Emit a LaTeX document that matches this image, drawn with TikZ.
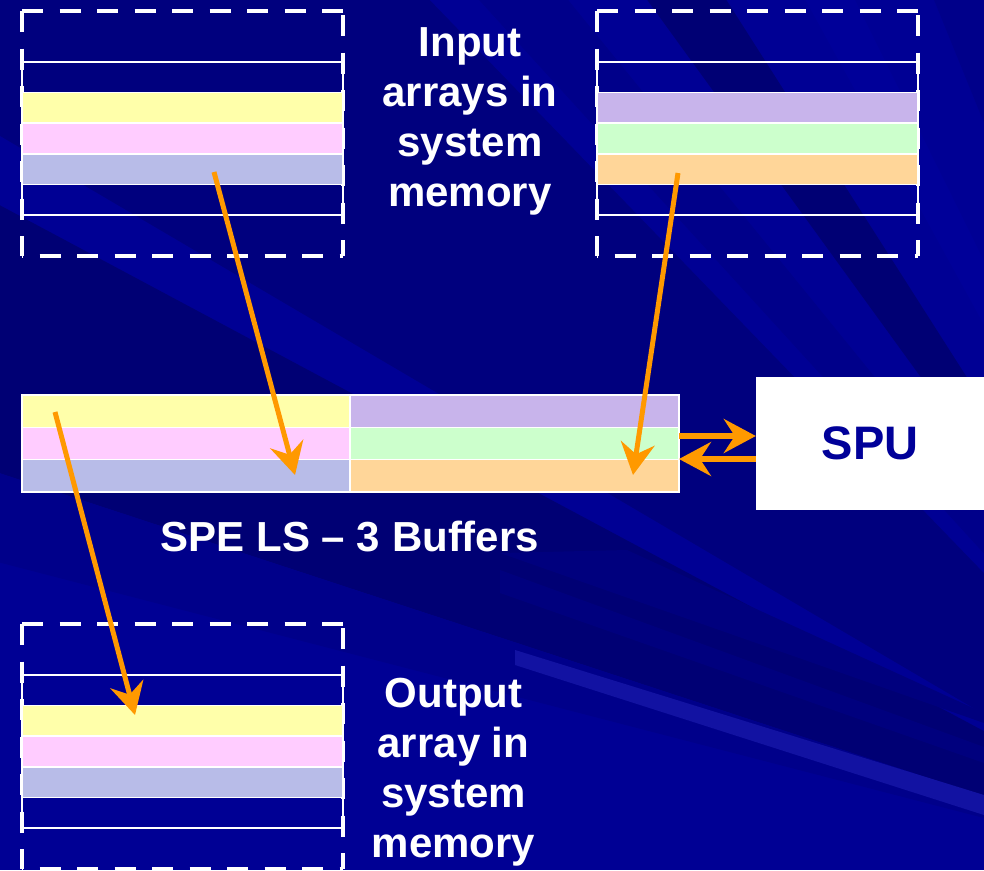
\documentclass[tikz,border=0pt]{standalone}
\usepackage{fontspec}
\setmainfont{Liberation Sans}
\usetikzlibrary{arrows.meta}

\definecolor{bgblue}{HTML}{000094}
\definecolor{raydark}{HTML}{00008A}
\definecolor{raydeep}{HTML}{00007E}
\definecolor{rayshade}{HTML}{000074}
\definecolor{raysoft}{HTML}{000099}
\definecolor{raylight}{HTML}{1212A2}
\definecolor{cyellow}{HTML}{FFFFAA}
\definecolor{cpink}{HTML}{FFCCFF}
\definecolor{clav}{HTML}{B8BCE8}
\definecolor{cpurple}{HTML}{C8B4EB}
\definecolor{cgreen}{HTML}{CCFFCC}
\definecolor{corange}{HTML}{FFD699}
\definecolor{flowor}{HTML}{FF9900}
\definecolor{spublue}{HTML}{000099}

\tikzset{
  frame/.style={draw=white, line width=4.5pt, dash pattern=on 21pt off 16.5pt},
  slotline/.style={draw=white, line width=1.2pt},
  cell/.style={draw=white, line width=1.5pt, minimum width=321pt,
    minimum height=30.6pt, inner sep=0pt, outer sep=0pt},
  bufcell/.style={draw=white, line width=1.5pt, minimum height=32.3pt,
    inner sep=0pt, outer sep=0pt},
  tip/.style={-{Stealth[length=32pt, width=34pt, inset=11pt]}},
  flow/.style={draw=flowor, line width=5pt, tip},
  hflow/.style={draw=flowor, line width=6.5pt, tip},
  lbl/.style={text=white, font=\fontsize{42}{50}\selectfont\bfseries,
    align=center, inner sep=0pt},
}

% A memory array in system memory: dashed frame, five slots, three filled
% #1 name, #2 left x, #3 top y, #4-#6 colours of the filled slots
\newcommand\memblock[6]{%
  \begin{scope}[shift={(#2,#3)}]
    \draw[frame] (0,0) -- (321,0);
    \draw[frame] (0,0) -- (0,245);
    \draw[frame, dash phase=-4] (321,0) -- (321,245);
    \draw[frame, dash phase=20] (0,245) -- (321,245);
    \draw[slotline] (0,51) rectangle (321,204);
    \node[cell, fill=#4] (#1-1) at (160.5,96.9) {};
    \node[cell, fill=#5] (#1-2) at (160.5,127.5) {};
    \node[cell, fill=#6] (#1-3) at (160.5,158.1) {};
  \end{scope}}

\begin{document}
\begin{tikzpicture}[x=1pt, y=-1pt]
  \useasboundingbox (0,0) rectangle (984,870);
  \clip (0,0) rectangle (984,870);

  % backdrop: faint rays fanning out from a point beyond the lower right
  \coordinate (focus) at (1300,900);
  \fill[bgblue] (0,0) rectangle (984,870);
  \fill[raydeep]  (focus) -- (-10,130) -- (-10,-10) -- (420,-10) -- cycle;
  \fill[rayshade] (focus) -- (-10,200) -- (-10,470) -- cycle;
  \fill[raydark]  (focus) -- (-10,470) -- (-10,560) -- cycle;
  \fill[raydark]  (focus) -- (470,-10) -- (560,-10) -- cycle;
  \fill[rayshade] (focus) -- (640,-10) -- (720,-10) -- cycle;
  \fill[raysoft]  (focus) -- (800,-10) -- (850,-10) -- cycle;
  \fill[raydark]  (focus) -- (930,-10) -- (990,-10) -- cycle;
  \fill[raydeep]  (627,550) -- (984,713) -- (984,723) -- (500,553) -- cycle;
  \fill[raydeep]  (500,570) -- (984,747) -- (984,763) -- (500,593) -- cycle;
  \fill[raylight] (515,650) -- (984,795) -- (984,815) -- (515,665) -- cycle;

  % arrays in system memory
  \memblock{inA}{22}{11}{cyellow}{cpink}{clav}
  \memblock{inB}{597}{11}{cpurple}{cgreen}{corange}
  \memblock{outC}{22}{624}{cyellow}{cpink}{clav}

  % SPE local store: three buffers
  \node[bufcell, minimum width=328pt, fill=cyellow] (bA1) at (186,411.15) {};
  \node[bufcell, minimum width=328pt, fill=cpink]   (bA2) at (186,443.45) {};
  \node[bufcell, minimum width=328pt, fill=clav]    (bA3) at (186,475.75) {};
  \node[bufcell, minimum width=329pt, fill=cpurple] (bB1) at (514.5,411.15) {};
  \node[bufcell, minimum width=329pt, fill=cgreen]  (bB2) at (514.5,443.45) {};
  \node[bufcell, minimum width=329pt, fill=corange] (bB3) at (514.5,475.75) {};

  % SPU
  \node[fill=white, minimum width=228pt, minimum height=133pt, inner sep=0pt,
        text=spublue, font=\fontsize{47}{56}\selectfont\bfseries]
        (spu) at (870,443.5) {SPU};

  % labels
  \node[lbl] (inlbl) at (470,121.3) {Input\\arrays in\\system\\memory};
  \node[lbl, anchor=base] (lslbl) at (350,551.7) {SPE LS – 3 Buffers};
  \node[lbl] (outlbl) at (453.5,771.8) {Output\\array in\\system\\memory};

  % transfer end points
  \coordinate (getA) at (214,172);
  \coordinate (putA) at (295,475);
  \coordinate (getB) at (678,173);
  \coordinate (putB) at (633,475);
  \coordinate (getC) at (55,412);
  \coordinate (putC) at (135,715);
  \coordinate (toSpu) at (spu.west |- 0,436);
  \coordinate (fromSpu) at (spu.west |- 0,459);
  \coordinate (bufOut) at (bB2.east |- 0,436);
  \coordinate (bufIn) at (bB2.east |- 0,459);

  % data movement
  \draw[flow] (getA) -- (putA);
  \draw[flow] (getB) -- (putB);
  \draw[flow] (getC) -- (putC);
  \draw[hflow] (bufOut) -- (toSpu);
  \draw[hflow] (fromSpu) -- (bufIn);
\end{tikzpicture}
\end{document}
